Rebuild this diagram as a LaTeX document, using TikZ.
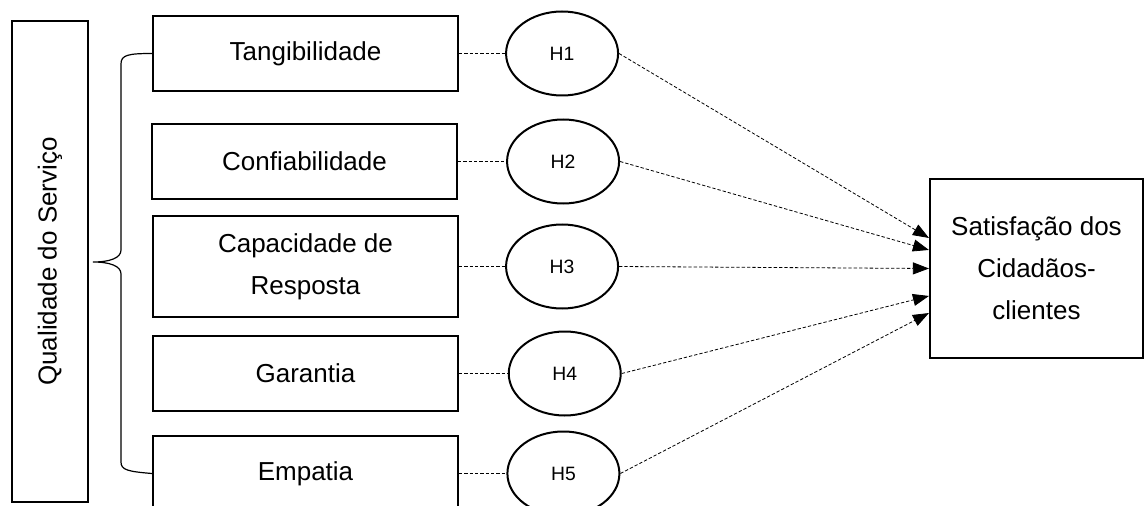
\documentclass[tikz,border=0pt]{standalone}
\usepackage{fontspec}
\setmainfont{Liberation Sans}
\usetikzlibrary{shapes, arrows.meta, positioning}

\begin{document}
\begin{tikzpicture}[x=0.75pt, y=-0.75pt, >={Triangle[length=12pt, width=9pt]}]
	\tikzstyle{dim} = [draw, line width=1.6pt, minimum width=228.75pt, minimum height=56.25pt, inner sep=0pt, align=center, font=\fontsize{19.5pt}{31.5pt}\selectfont]
	\tikzstyle{hyp} = [draw, line width=1.5pt, ellipse, minimum width=84pt, minimum height=63pt, inner sep=0pt, font=\fontsize{14.5pt}{16pt}\selectfont]
	\tikzstyle{link} = [line width=0.6pt, dash pattern=on 2.5pt off 1.5pt]

	\useasboundingbox (0,0) rectangle (1145,506);

	% construto e dimensoes
	\node[dim, rotate=90, minimum width=360.75pt, minimum height=57pt] (qual) at (50,261.5) {Qualidade do Serviço};
	\node[dim] (tang) at (305.5,53.5) {Tangibilidade};
	\node[dim] (conf) at (304.5,161.5) {Confiabilidade};
	\node[dim, minimum height=75.75pt] (cap) at (305.5,266.5) {Capacidade de\\Resposta};
	\node[dim] (gar) at (305.5,373.5) {Garantia};
	\node[dim] (emp) at (305.5,473.5) {Empatia};

	% hipoteses
	\node[hyp, right=34.5pt of tang] (h1) {H1};
	\node[hyp, right=36pt of conf] (h2) {H2};
	\node[hyp, right=34.5pt of cap] (h3) {H3};
	\node[hyp, right=36.5pt of gar] (h4) {H4};
	\node[hyp, right=35.5pt of emp] (h5) {H5};

	\node[dim, minimum width=159.75pt, minimum height=134.25pt] (sat) at (1036.5,268.5) {Satisfação dos\\Cidadãos-\\clientes};

	% chaveta
	\coordinate (tip) at (93,262);
	\draw[line width=0.9pt] (tang.west) .. controls (128,53.5) and (121,55) .. (121,64) -- (121,250)
		.. controls (121,258) and (110,262) .. (tip)
		.. controls (110,262) and (121,266) .. (121,274) -- (121,462)
		.. controls (121,470) and (128,471.5) .. (emp.west);

	\path[link]
		(tang) edge (h1)
		(conf) edge (h2)
		(cap) edge (h3)
		(gar) edge (h4)
		(emp) edge (h5)
	;

	\path[->, link]
		(h1.east) edge ([yshift=22.9pt]sat.west)
		(h2.east) edge ([yshift=13.9pt]sat.west)
		(h3.east) edge (sat.west)
		(h4.east) edge ([yshift=-20.6pt]sat.west)
		(h5.east) edge ([yshift=-33.4pt]sat.west)
	;
\end{tikzpicture}
\end{document}
